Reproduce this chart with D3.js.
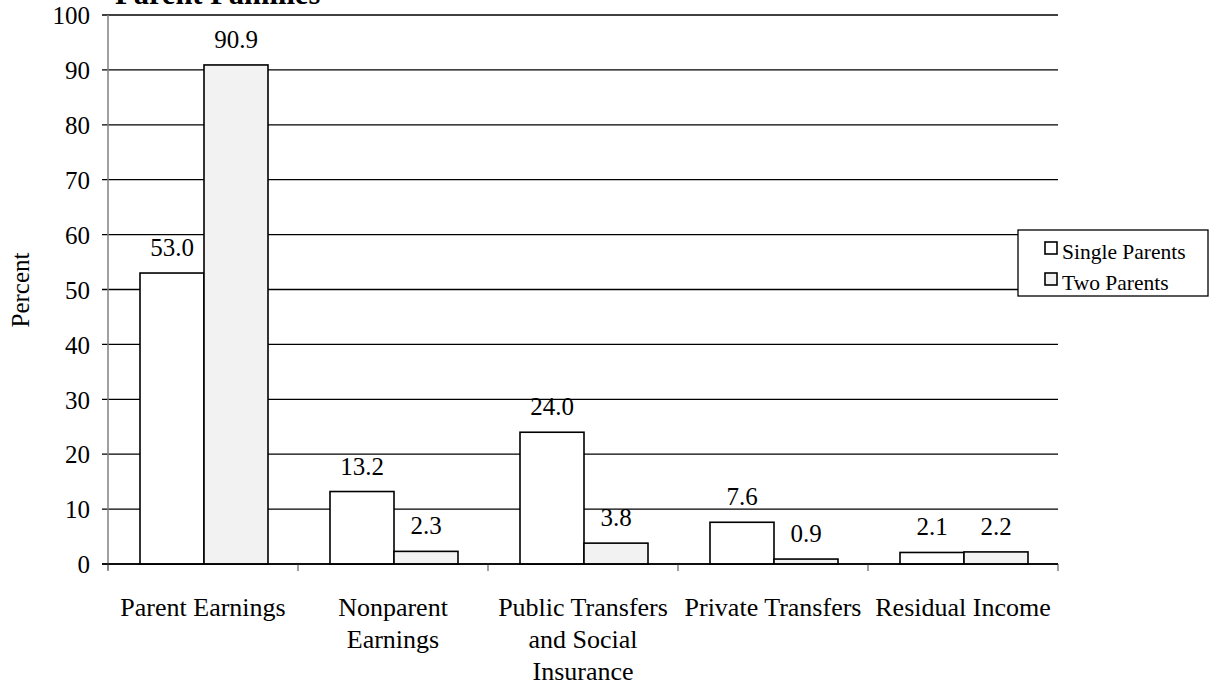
<!DOCTYPE html>
<html><head><meta charset="utf-8">
<script src="https://cdn.jsdelivr.net/npm/d3@7"></script>
<style>body{margin:0;background:#fff;} svg{display:block;} text{font-family:"Liberation Serif","Times New Roman",serif;fill:#000;}</style>
</head><body>
<svg id="c" width="1209" height="689"></svg>
<script>
const categories = [["Parent Earnings"],["Nonparent","Earnings"],["Public Transfers","and Social","Insurance"],["Private Transfers"],["Residual Income"]];
const seriesNames = ["Single Parents","Two Parents"];
const singleParents = [53.0, 13.2, 24.0, 7.6, 2.1];
const twoParents = [90.9, 2.3, 3.8, 0.9, 2.2];
const seriesColors = ["#ffffff","#f2f2f2"];
const yTicks = [0,10,20,30,40,50,60,70,80,90,100];
const title = "Parent Families";

const svg = d3.select("#c");
const x0 = d3.scaleBand().domain(d3.range(categories.length)).range([108,1058]).paddingInner(0).paddingOuter(0);
const y = d3.scaleLinear().domain([0,100]).range([564,15]);
const x1 = d3.scaleBand().domain([0,1]).range([0,128]);

// title (cut off at top, as in the reference)
svg.append("text").attr("x",115).attr("y",4).attr("font-size",30.5).attr("font-weight","bold").text(title);

// gridlines
svg.append("g").selectAll("line").data(yTicks).join("line")
  .attr("x1",102).attr("x2",1058).attr("y1",d=>y(d)).attr("y2",d=>y(d))
  .attr("stroke","#000").attr("stroke-width",1.3);

// y axis
const yAx = svg.append("g").attr("transform","translate(108,0)").call(d3.axisLeft(y).tickValues(yTicks).tickSize(6).tickPadding(12));
yAx.select(".domain").attr("stroke","#808080").attr("stroke-width",1.5).attr("d","M0,15V570");
yAx.selectAll(".tick line").remove();
yAx.selectAll("text").attr("font-size",25).attr("font-family","Liberation Serif").attr("fill","#000").attr("dy","0.35em");

// x axis ticks at category boundaries
const bounds = d3.range(categories.length+1).map(i=> i<categories.length ? x0(i) : x0(i-1)+x0.bandwidth());
svg.append("g").selectAll("line").data(bounds).join("line")
  .attr("x1",d=>d).attr("x2",d=>d).attr("y1",564).attr("y2",571)
  .attr("stroke","#808080").attr("stroke-width",1.5);

// bars
const data = categories.map((c,i)=>[singleParents[i],twoParents[i]]);
const groups = svg.append("g").selectAll("g").data(data).join("g")
  .attr("transform",(d,i)=>`translate(${x0(i)+x0.bandwidth()/2-64+1},0)`);
groups.selectAll("rect").data(d=>d).join("rect")
  .attr("x",(d,j)=>x1(j)).attr("width",x1.bandwidth())
  .attr("y",d=>y(d)).attr("height",d=>y(0)-y(d))
  .attr("fill",(d,j)=>seriesColors[j]).attr("stroke","#000").attr("stroke-width",1.6);
groups.selectAll("text").data(d=>d).join("text")
  .attr("x",(d,j)=>x1(j)+x1.bandwidth()/2).attr("y",d=>y(d)-17)
  .attr("text-anchor","middle").attr("font-size",25).text(d=>d.toFixed(1));

// x axis line
svg.append("line").attr("x1",102).attr("x2",1058).attr("y1",564).attr("y2",564).attr("stroke","#000").attr("stroke-width",1.3);

// category labels
svg.append("g").selectAll("text").data(categories).join("text")
  .attr("x",(d,i)=>x0(i)+x0.bandwidth()/2).attr("y",616).attr("text-anchor","middle").attr("font-size",26)
  .each(function(d){ const xx=d3.select(this).attr("x"); d3.select(this).selectAll("tspan").data(d).join("tspan").attr("x",xx).attr("dy",(t,k)=>k?32:0).text(t=>t); });

// y label
svg.append("text").attr("transform","translate(29,290) rotate(-90)").attr("text-anchor","middle").attr("font-size",25).text("Percent");

// legend
const lg = svg.append("g");
lg.append("rect").attr("x",1018).attr("y",230).attr("width",190).attr("height",66).attr("fill","#fff").attr("stroke","#000").attr("stroke-width",1.3);
const li = lg.selectAll("g").data(seriesNames).join("g").attr("transform",(d,i)=>`translate(1045,${242+i*31})`);
li.append("rect").attr("width",12).attr("height",12).attr("fill",(d,i)=>seriesColors[i]).attr("stroke","#000").attr("stroke-width",1.6);
li.append("text").attr("x",17).attr("y",17).attr("font-size",21.5).text(d=>d);
</script>
</body></html>
